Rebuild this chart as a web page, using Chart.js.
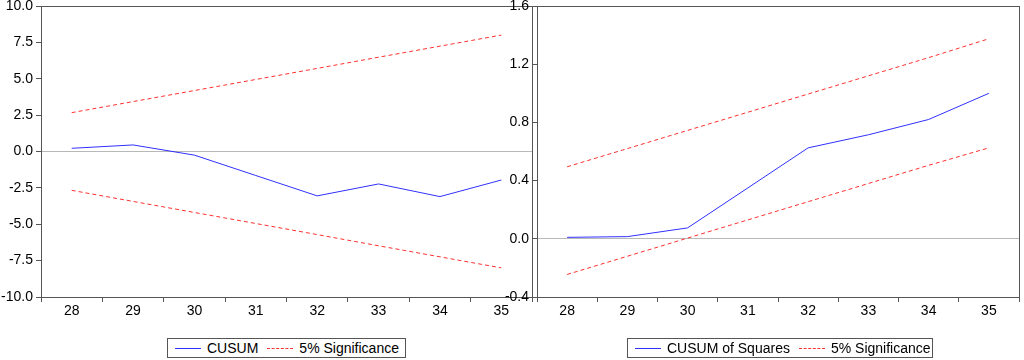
<!DOCTYPE html>
<html>
<head>
<meta charset="utf-8">
<title>CUSUM tests</title>
<script src="https://cdn.jsdelivr.net/npm/chart.js/dist/chart.umd.min.js"></script>
<style>
    body { margin: 0; background: #fff; font-family: "Liberation Sans", Arial, sans-serif; }
    #wrap { position: relative; width: 1024px; height: 360px; overflow: hidden; }
    canvas { position: absolute; top: 0; }
    #c1 { left: 0; }
    #c2 { left: 490px; }
    .legend { position: absolute; top: 338px; height: 20px; box-sizing: border-box; border: 1px solid #555;
              display: flex; align-items: center; font-size: 14px; color: #000; padding-left: 7px; }
    .legend .ln { display: inline-block; width: 26px; height: 0; margin-right: 6px; }
    .legend .solid { border-top: 1px solid #3030ff; }
    .legend .dash { border-top: 1px dashed #ff3030; margin-left: 9px; }
</style>
</head>
<body>
<div id="wrap">
    <canvas id="c1" width="536" height="330"></canvas>
    <canvas id="c2" width="534" height="330"></canvas>
    <div class="legend" style="left:167px;width:239px;">
        <span class="ln solid"></span><span>CUSUM</span>
        <span class="ln dash"></span><span>5% Significance</span>
    </div>
    <div class="legend" style="left:627px;width:306px;">
        <span class="ln solid"></span><span>CUSUM of Squares</span>
        <span class="ln dash"></span><span>5% Significance</span>
    </div>
</div>
<script>
// observations on the x axis
const categories = ['28', '29', '30', '31', '32', '33', '34', '35'];

// left panel: CUSUM and its 5% bands
const cusum      = [0.22, 0.45, -0.25, -1.65, -3.05, -2.23, -3.1, -1.96];
const cusumUpper = [2.67, 3.43, 4.19, 4.95, 5.71, 6.48, 7.24, 8.0];
const cusumLower = [-2.67, -3.43, -4.19, -4.95, -5.71, -6.48, -7.24, -8.0];

// right panel: CUSUM of squares and its 5% bands
const cusumSq = [0.01, 0.015, 0.075, 0.35, 0.625, 0.715, 0.82, 1.0];
const sqUpper = [0.495, 0.62, 0.745, 0.87, 0.995, 1.12, 1.245, 1.375];
const sqLower = [-0.245, -0.12, 0.005, 0.13, 0.255, 0.38, 0.505, 0.625];

// y axis ranges: [min, max, step]
const leftRange  = [-10, 10, 2.5];
const rightRange = [-0.4, 1.6, 0.4];

const axisColor = '#555';
const font = { family: '"Liberation Sans", Arial, sans-serif', size: 14 };

// draws the box round the plot area
const framePlugin = {
    id: 'frame',
    afterDraw(chart) {
        const a = chart.chartArea, ctx = chart.ctx;
        ctx.save();
        ctx.strokeStyle = axisColor;
        ctx.lineWidth = 1;
        ctx.strokeRect(Math.round(a.left) + 0.5, Math.round(a.top) + 0.5,
                       Math.round(a.right - a.left), Math.round(a.bottom - a.top));
        ctx.restore();
    }
};

function makeChart(id, series, upper, lower, range, yWidth, padRight) {
    const line = (data, color, dash) => ({
        data: data, borderColor: color, borderWidth: 1, borderDash: dash,
        pointRadius: 0, tension: 0, fill: false
    });
    return new Chart(document.getElementById(id), {
        type: 'line',
        data: {
            labels: categories,
            datasets: [
                line(upper, '#ff3030', [4, 3]),
                line(lower, '#ff3030', [4, 3]),
                line(series, '#3030ff', [])
            ]
        },
        options: {
            responsive: false,
            animation: false,
            layout: { padding: { top: 6, right: padRight, left: 0, bottom: 0 } },
            plugins: { legend: { display: false }, tooltip: { enabled: false } },
            scales: {
                x: {
                    type: 'category',
                    offset: true,
                    grid: { offset: true, drawOnChartArea: false, color: axisColor, tickLength: 5 },
                    border: { color: axisColor },
                    ticks: { color: '#000', font: font, padding: 1, maxRotation: 0 },
                    afterFit: s => { s.height = 33; s.paddingLeft = 0; s.paddingRight = 0; }
                },
                y: {
                    min: range[0], max: range[1],
                    grid: {
                        color: c => Math.abs(c.tick.value) < 1e-9 ? '#b8b8b8' : 'transparent',
                        tickColor: axisColor, tickLength: 5
                    },
                    border: { color: axisColor },
                    ticks: { stepSize: range[2], color: '#000', font: font, padding: 3,
                             callback: v => Number(v).toFixed(1) },
                    afterFit: s => { s.width = yWidth; s.paddingTop = 0; s.paddingBottom = 0; }
                }
            }
        },
        plugins: [framePlugin]
    });
}

makeChart('c1', cusum, cusumUpper, cusumLower, leftRange, 41, 4);
makeChart('c2', cusumSq, sqUpper, sqLower, rightRange, 47, 5);
</script>
</body>
</html>
